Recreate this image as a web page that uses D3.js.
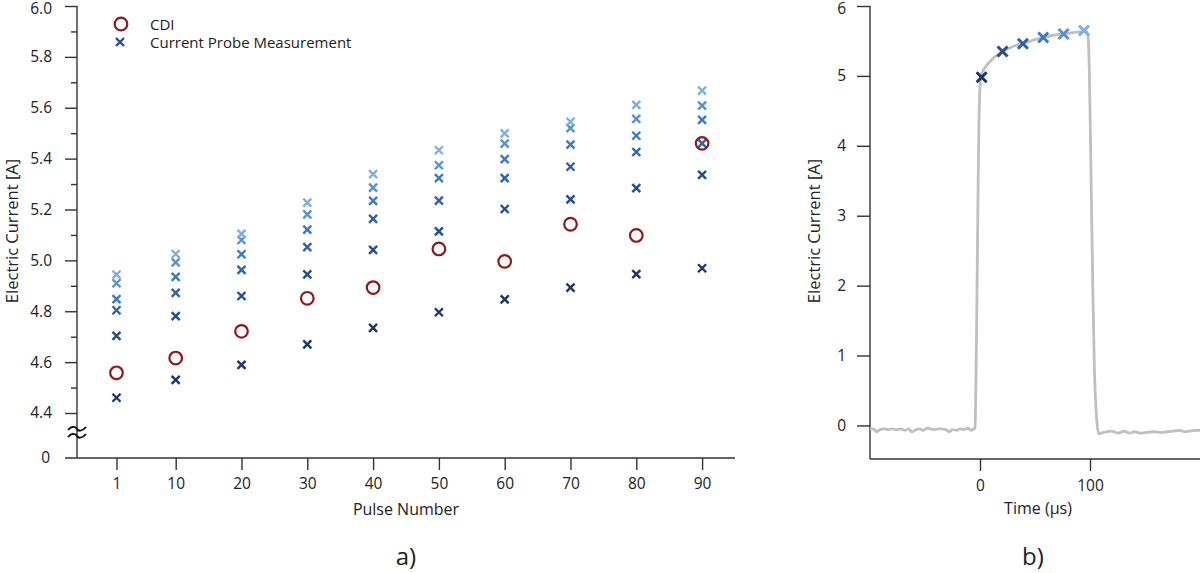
<!DOCTYPE html>
<html>
<head>
<meta charset="utf-8">
<script src="https://cdn.jsdelivr.net/npm/d3@7"></script>
<style>
  body { margin: 0; background: #fff; }
  svg { display: block; font-family: "Open Sans", sans-serif; }
  .axis path, .axis line { stroke: #333; stroke-width: 1.4; }
  .axis text { fill: #222; font-size: 15.5px; font-family: "Open Sans", sans-serif; }
</style>
</head>
<body>
<script>
// ---- data: panel a) ----
var pulses = [1, 10, 20, 30, 40, 50, 60, 70, 80, 90];
var cdi = [4.558, 4.616, 4.721, 4.851, 4.893, 5.045, 4.996, 5.142, 5.098, 5.460];
// probe samples within each pulse, from first (dark) to last (light)
var probeT0 = [4.460, 4.530, 4.589, 4.670, 4.735, 4.796, 4.847, 4.893, 4.946, 4.969];
var probeT1 = [4.703, 4.781, 4.860, 4.945, 5.041, 5.114, 5.202, 5.240, 5.284, 5.336];
var probeT2 = [4.804, 4.872, 4.963, 5.052, 5.163, 5.235, 5.323, 5.368, 5.426, 5.460];
var probeT3 = [4.848, 4.935, 5.024, 5.121, 5.234, 5.323, 5.398, 5.455, 5.490, 5.552];
var probeT4 = [4.910, 4.992, 5.080, 5.181, 5.286, 5.374, 5.459, 5.520, 5.556, 5.608];
var probeT5 = [4.944, 5.025, 5.104, 5.227, 5.339, 5.433, 5.499, 5.545, 5.611, 5.667];
var yTicksA = [4.4, 4.6, 4.8, 5.0, 5.2, 5.4, 5.6, 5.8, 6.0];
var yMinorA = [4.5, 4.7, 4.9, 5.1, 5.3, 5.5, 5.7, 5.9];

// ---- data: panel b) ----
var sampleTime = [1.5, 20.5, 39, 57.5, 76, 94.5];
var sampleCurrent = [4.98, 5.35, 5.46, 5.55, 5.60, 5.65];
var yTicksB = [0, 1, 2, 3, 4, 5, 6];
var xTicksB = [0, 100];
var traceTime = [-100, -97, -94, -91, -87, -83, -80, -76, -72, -68, -65, -62, -58, -55, -52, -48, -45, -41, -38, -35, -31, -28, -25, -21, -18, -15, -11, -8, -6,
  -4.5, -4, -3, -2, -1, 0, 1, 3, 6, 10, 14, 18, 22, 30, 40, 50, 60, 70, 80, 90, 96, 98, 99.5, 101, 102.5, 104, 106, 108,
  110, 113, 116, 119, 122, 125, 128, 131, 134, 137, 140, 143, 147, 152, 158, 164, 170, 176, 182, 186, 190, 195, 200];
var traceCurrent = [-0.05, -0.05, -0.09, -0.06, -0.05, -0.06, -0.05, -0.06, -0.05, -0.07, -0.05, -0.09, -0.06, -0.05, -0.07, -0.04, -0.05, -0.06, -0.05, -0.05, -0.06, -0.09, -0.06, -0.07, -0.05, -0.06, -0.04, -0.07, -0.05,
  -0.04, 0.3, 1.5, 3.0, 4.3, 4.85, 5.0, 5.08, 5.15, 5.22, 5.28, 5.32, 5.36, 5.42, 5.47, 5.52, 5.56, 5.59, 5.61, 5.63, 5.64, 5.6, 5.0, 3.5, 2.0, 0.8, 0.1, -0.12,
  -0.11, -0.1, -0.09, -0.08, -0.09, -0.11, -0.1, -0.08, -0.1, -0.11, -0.09, -0.1, -0.11, -0.1, -0.09, -0.1, -0.09, -0.08, -0.07, -0.09, -0.08, -0.07, -0.07];

var probeSeries = [probeT0, probeT1, probeT2, probeT3, probeT4, probeT5];
var probeColors = ["#1b3668", "#1f4e96", "#2b63b2", "#3d7ac6", "#5791d2", "#7eafe0"];
var cdiColor = "#8b1a1a";

var W = 1200, H = 573;
var svg = d3.select("body").append("svg").attr("width", W).attr("height", H);

function cross(g, x, y, s, color, sw) {
    g.append("path")
        .attr("d", "M" + (x - s) + "," + (y - s) + "L" + (x + s) + "," + (y + s) +
                   "M" + (x - s) + "," + (y + s) + "L" + (x + s) + "," + (y - s))
        .attr("stroke", color)
        .attr("stroke-width", sw)
        .attr("fill", "none");
}

// keep the topmost tick label inside the picture
function nudgeTop(g, topValue) {
    g.selectAll(".tick").filter(function(d) { return d === topValue; })
        .select("text").attr("dy", "0.5em");
}

// ================= panel a) =================
var xA = d3.scaleLinear().domain([-5, 95]).range([77, 735]);
var yA = d3.scaleLinear().domain([4.4, 6.0]).range([413, 6]);
var bottomA = 458;

var gA = svg.append("g");

// y axis, major + minor ticks
gA.append("g").attr("class", "axis")
    .attr("transform", "translate(77,0)")
    .call(d3.axisLeft(yA).tickValues(yTicksA).tickSize(12).tickPadding(13).tickFormat(d3.format(".1f")))
    .call(function(g) { g.select(".domain").remove(); nudgeTop(g, 6.0); });
gA.append("g").attr("class", "axis")
    .attr("transform", "translate(77,0)")
    .call(d3.axisLeft(yA).tickValues(yMinorA).tickSize(6).tickFormat(""))
    .call(function(g) { g.select(".domain").remove(); });
// vertical line incl. broken part
gA.append("line").attr("x1", 77).attr("x2", 77).attr("y1", 6).attr("y2", bottomA)
    .attr("stroke", "#333").attr("stroke-width", 1.4);
// the "0" at the bottom of the broken axis
gA.append("text").attr("x", 50).attr("y", bottomA).attr("dy", "0.32em")
    .attr("text-anchor", "end").attr("font-size", "15.5px").attr("fill", "#222").text("0");
// break mark
[429, 436].forEach(function(yy) {
    gA.append("path")
        .attr("d", "M68," + (yy + 1) + "C72," + (yy - 4) + " 76," + (yy - 2) + " 77," + yy +
                   "S82," + (yy + 3) + " 86," + (yy - 2))
        .attr("stroke", "#111").attr("stroke-width", 2).attr("fill", "none");
});

// x axis
gA.append("g").attr("class", "axis")
    .attr("transform", "translate(0," + bottomA + ")")
    .call(d3.axisBottom(xA).tickValues(pulses).tickSize(12).tickPadding(8))
    .call(function(g) { g.select(".domain").remove(); });
gA.append("line").attr("x1", 65).attr("x2", 735).attr("y1", bottomA).attr("y2", bottomA)
    .attr("stroke", "#333").attr("stroke-width", 1.4);

// probe crosses
probeSeries.forEach(function(series, k) {
    series.forEach(function(v, i) {
        cross(gA, xA(pulses[i]), yA(v), 4, probeColors[k], 2.4);
    });
});

// CDI circles
gA.selectAll("circle.cdi").data(cdi).enter().append("circle")
    .attr("class", "cdi")
    .attr("cx", function(d, i) { return xA(pulses[i]); })
    .attr("cy", function(d) { return yA(d); })
    .attr("r", 6.3)
    .attr("fill", "none")
    .attr("stroke", cdiColor)
    .attr("stroke-width", 2.2);

// legend
gA.append("circle").attr("cx", 121).attr("cy", 24).attr("r", 6.3)
    .attr("fill", "none").attr("stroke", cdiColor).attr("stroke-width", 2.2);
gA.append("text").attr("x", 150).attr("y", 30).attr("font-size", "15px").attr("fill", "#222").text("CDI");
cross(gA, 120, 42, 4, "#1f4e96", 2.4);
gA.append("text").attr("x", 150).attr("y", 48).attr("font-size", "15px").attr("fill", "#222").text("Current Probe Measurement");

// labels
gA.append("text").attr("x", 406).attr("y", 515).attr("text-anchor", "middle")
    .attr("font-size", "16px").attr("fill", "#222").text("Pulse Number");
gA.append("text").attr("transform", "translate(18,231) rotate(-90)").attr("text-anchor", "middle")
    .attr("font-size", "16.5px").attr("fill", "#222").text("Electric Current [A]");
gA.append("text").attr("x", 406).attr("y", 565).attr("text-anchor", "middle")
    .attr("font-size", "24px").attr("fill", "#222").text("a)");

// ================= panel b) =================
var xB = d3.scaleLinear().domain([-100, 200]).range([870, 1200]);
var yB = d3.scaleLinear().domain([-0.48, 6]).range([459, 6]);
var gB = svg.append("g");

gB.append("g").attr("class", "axis")
    .attr("transform", "translate(870,0)")
    .call(d3.axisLeft(yB).tickValues(yTicksB).tickSize(13).tickPadding(11).tickFormat(d3.format("d")))
    .call(function(g) { g.select(".domain").remove(); nudgeTop(g, 6); });
gB.append("line").attr("x1", 870).attr("x2", 870).attr("y1", 6).attr("y2", 459)
    .attr("stroke", "#333").attr("stroke-width", 1.4);

gB.append("g").attr("class", "axis")
    .attr("transform", "translate(0,459)")
    .call(d3.axisBottom(xB).tickValues(xTicksB).tickSize(12).tickPadding(9).tickFormat(d3.format("d")))
    .call(function(g) { g.select(".domain").remove(); });
gB.append("line").attr("x1", 870).attr("x2", 1200).attr("y1", 459).attr("y2", 459)
    .attr("stroke", "#333").attr("stroke-width", 1.4);

var trace = traceTime.map(function(t, i) { return [t, traceCurrent[i]]; });
gB.append("path")
    .attr("d", d3.line().x(function(d) { return xB(d[0]); }).y(function(d) { return yB(d[1]); })
        .curve(d3.curveMonotoneX)(trace))
    .attr("fill", "none")
    .attr("stroke", "#bfbfbf")
    .attr("stroke-width", 2.8);

sampleTime.forEach(function(t, k) {
    cross(gB, xB(t), yB(sampleCurrent[k]), 5, probeColors[k], 3);
});

gB.append("text").attr("x", 1038).attr("y", 514).attr("text-anchor", "middle")
    .attr("font-size", "16px").attr("fill", "#222").text("Time (µs)");
gB.append("text").attr("transform", "translate(820,231) rotate(-90)").attr("text-anchor", "middle")
    .attr("font-size", "16.5px").attr("fill", "#222").text("Electric Current [A]");
gB.append("text").attr("x", 1033).attr("y", 565).attr("text-anchor", "middle")
    .attr("font-size", "24px").attr("fill", "#222").text("b)");
</script>
</body>
</html>
